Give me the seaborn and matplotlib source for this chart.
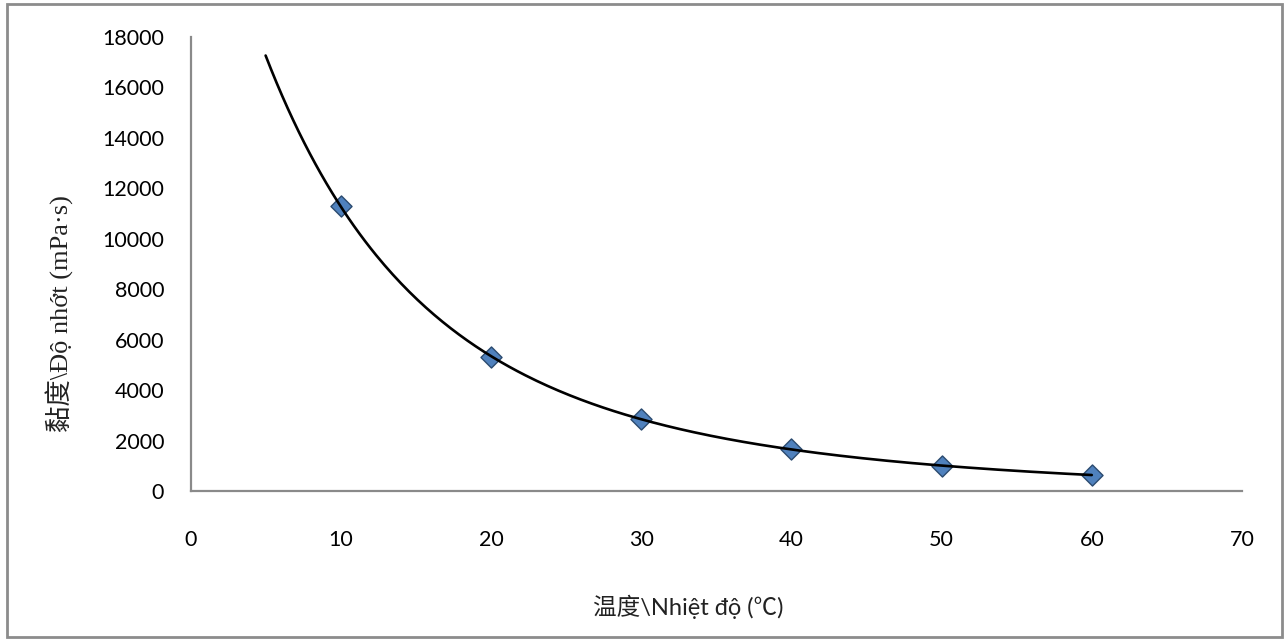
import numpy as np
import pandas as pd
import matplotlib
matplotlib.use("Agg")
import matplotlib.pyplot as plt
from matplotlib.patches import Rectangle
import seaborn as sns

# Data
temperature = [10, 20, 30, 40, 50, 60]
viscosity = [11300, 5325, 2855, 1653, 1004, 634]
x_ticks = [0, 10, 20, 30, 40, 50, 60, 70]
y_ticks = [0, 2000, 4000, 6000, 8000, 10000, 12000, 14000, 16000, 18000]
trend_start, trend_end = 5, 60

sns.set_theme(style="white")
plt.rcParams['font.family'] = ['Lato', 'Noto Sans CJK SC', 'DejaVu Sans']

df = pd.DataFrame({"t": temperature, "v": viscosity})

# Trendline: cubic fit in log space
coef = np.polyfit(df["t"], np.log(df["v"]), 3)
tt = np.linspace(trend_start, trend_end, 300)
trend = pd.DataFrame({"t": tt, "v": np.exp(np.polyval(coef, tt))})

fig = plt.figure(figsize=(12.84, 6.4), dpi=100)
ax = fig.add_axes([190.5/1284, 1-491/640, (1242-190.5)/1284, (491-37)/640])

sns.lineplot(data=trend, x="t", y="v", ax=ax, color="black", linewidth=1.9, zorder=3)
sns.scatterplot(data=df, x="t", y="v", ax=ax, marker="D", s=115,
                color="#4F81BD", edgecolor="#2B4A6F", linewidth=1.0, zorder=2)

ax.set_xlim(0, 70)
ax.set_ylim(0, 18000)
ax.set_xticks(x_ticks)
ax.set_yticks(y_ticks)
ax.tick_params(axis="both", length=0, labelsize=15.5, colors="black")
ax.tick_params(axis="y", pad=19)
ax.tick_params(axis="x", pad=28)
for s in ["top", "right"]:
    ax.spines[s].set_visible(False)
for s in ["left", "bottom"]:
    ax.spines[s].set_color("#8a8a8a")
    ax.spines[s].set_linewidth(1.6)

ax.set_xlabel("")
ax.set_ylabel("")
fig.text(60/1284, 1-314/640, "黏度\\Độ nhớt (mPa·s)", rotation=90, ha="center", va="center",
         fontsize=19, family=["Liberation Serif", "Noto Sans CJK SC"], color="#222222")
fig.text(688/1284, 1-607/640, "温度\\Nhiệt độ (℃)", ha="center", va="center",
         fontsize=17, family=["Lato", "Noto Sans CJK SC", "DejaVu Sans"], color="#222222")

fig.patches.append(Rectangle((7/1284, 3/640), 1275/1284, 633/640, transform=fig.transFigure,
                             fill=False, edgecolor="#8c8c8c", linewidth=2))

fig.savefig("out.png", dpi=100, facecolor="white")
